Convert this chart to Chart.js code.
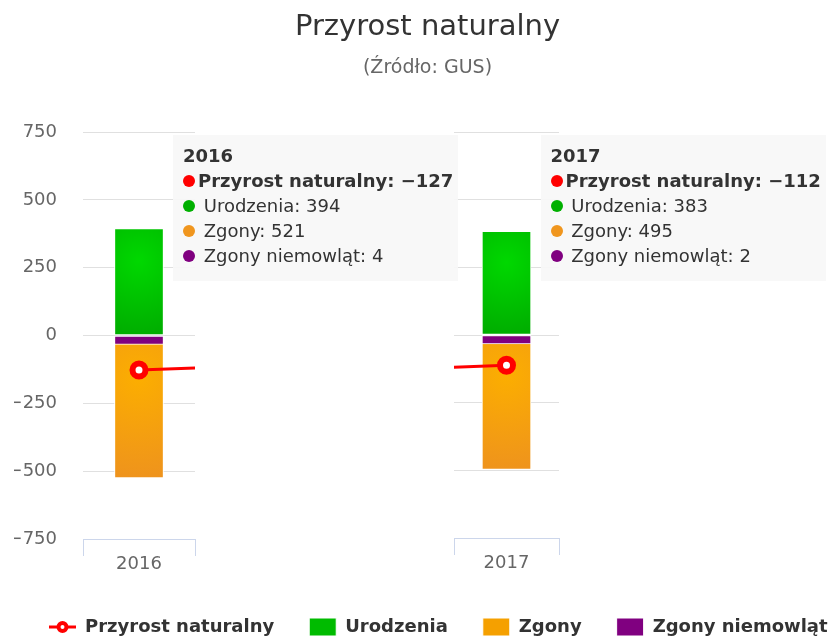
<!DOCTYPE html>
<html lang="pl">
<head>
<meta charset="utf-8">
<title>Przyrost naturalny</title>
<script src="https://cdn.jsdelivr.net/npm/chart.js@4/dist/chart.umd.min.js"></script>
<style>
  html, body { margin: 0; padding: 0; background: #fff; }
  #wrap { position: relative; width: 829px; height: 639px; overflow: hidden; }
  #wrap canvas { position: absolute; left: 0; top: 0; }
  #chartB { pointer-events: none; }
  .tip {
    position: absolute; z-index: 5; width: 285px; box-sizing: border-box;
    padding: 8px 10px 13px 10px; background: rgba(247, 247, 247, 0.92);
    font: 18px "DejaVu Sans", Verdana, sans-serif; color: #333;
    line-height: 25px; white-space: nowrap; overflow: hidden;
  }
  .tip .tt { font-weight: bold; }
  .tip .b { font-weight: bold; }
  .tip .dot {
    display: inline-block; width: 12px; height: 12px; border-radius: 50%;
    vertical-align: middle; margin-right: 3px; position: relative; top: -1px;
  }
</style>
</head>
<body>
<div id="wrap">
  <canvas id="chartA" width="829" height="639"></canvas>
  <canvas id="chartB" width="829" height="639"></canvas>
</div>
<script>
// Przyrost naturalny (GUS) - two year panels, shared tooltip for each
const years = ['2016', '2017'];
const seriesNames = ['Przyrost naturalny', 'Urodzenia', 'Zgony', 'Zgony niemowląt'];
const przyrost = [-127, -112];
const urodzenia = [394, 383];
const zgony = [521, 495];
const zgonyNiemowlat = [4, 2];
const yTicks = [750, 500, 250, 0, -250, -500, -750];
const yTickLabels = ['750', '500', '250', '0', '−250', '−500', '−750'];

const dotColors = ['#ff0000', '#00b000', '#f0961e', '#800080'];
const legendColors = ['#ff0000', '#00bb00', '#f5a000', '#800080'];

Chart.defaults.font.family = '"DejaVu Sans", Verdana, sans-serif';
Chart.defaults.animation = false;

function fmt(v) {
    return v < 0 ? '−' + Math.abs(v) : String(v);
}

// radial fill like the original columns (brighter near the top middle)
function radial(light, dark) {
    return function(c) {
        if (c.type !== 'data' || c.raw == null) return dark;
        const chart = c.chart;
        const xs = chart.scales.x, ys = chart.scales.y;
        if (!xs || !ys || !chart.chartArea) return dark;
        const cx = xs.getPixelForValue(c.dataIndex);
        const top = ys.getPixelForValue(Math.max(c.raw, 0));
        const bottom = ys.getPixelForValue(Math.min(c.raw, 0));
        const h = Math.max(bottom - top, 20);
        const cy = top + h * 0.3;
        const g = chart.ctx.createRadialGradient(cx, cy, 0, cx, cy, Math.max(h, 49) * 0.85);
        g.addColorStop(0, light);
        g.addColorStop(1, dark);
        return g;
    };
}

function makeDatasets() {
    const bar = {
        type: 'bar', borderColor: '#ffffff', borderWidth: 1, borderSkipped: false,
        barThickness: 49, clip: 0
    };
    return [
        {
            type: 'line', label: seriesNames[0], data: przyrost, order: 0, clip: 0,
            borderColor: '#ff0000', borderWidth: 3, tension: 0,
            pointRadius: 6.5, pointBorderWidth: 6, pointBackgroundColor: '#ffffff',
            pointBorderColor: '#ff0000'
        },
        Object.assign({}, bar, {
            label: seriesNames[1], data: urodzenia, order: 1,
            backgroundColor: radial('#00d800', '#00a400')
        }),
        Object.assign({}, bar, {
            label: seriesNames[2], data: zgony.map(v => -v), order: 3,
            backgroundColor: radial('#fcae00', '#ec8e22')
        }),
        Object.assign({}, bar, {
            label: seriesNames[3], data: zgonyNiemowlat.map(v => -v), order: 2,
            backgroundColor: '#800080', minBarLength: 9
        })
    ];
}

// legend symbol for the line series: line with a ring marker
const lineSymbol = document.createElement('canvas');
lineSymbol.width = 27;
lineSymbol.height = 16;
(function() {
    const c = lineSymbol.getContext('2d');
    c.strokeStyle = '#ff0000';
    c.lineWidth = 3;
    c.beginPath(); c.moveTo(0, 8); c.lineTo(27, 8); c.stroke();
    c.lineWidth = 4;
    c.fillStyle = '#ffffff';
    c.beginPath(); c.arc(13.5, 8, 4, 0, Math.PI * 2); c.fill(); c.stroke();
})();

function drawTip(context) {
    const chart = context.chart, tooltip = context.tooltip;
    const pts = tooltip.dataPoints;
    if (!pts || !pts.length) return;
    let el = document.getElementById('tip' + chart.id);
    if (!el) {
        el = document.createElement('div');
        el.id = 'tip' + chart.id;
        el.className = 'tip';
        document.getElementById('wrap').appendChild(el);
    }
    const cx = chart.scales.x.getPixelForValue(pts[0].dataIndex);
    el.style.left = (cx + 34) + 'px';
    el.style.top = (chart.chartArea.top + 3) + 'px';
    let html = '<div class="tt">' + tooltip.title[0] + '</div>';
    pts.forEach(p => {
        const i = p.datasetIndex;
        const val = p.dataset.type === 'line' ? fmt(p.raw) : fmt(Math.abs(p.raw));
        const dot = '<span class="dot" style="background:' + dotColors[i] + '"></span>';
        if (i === 0) {
            html += '<div class="b">' + dot + p.dataset.label + ': ' + val + '</div>';
        } else {
            html += '<div>' + dot + ' ' + p.dataset.label + ': ' + val + '</div>';
        }
    });
    el.innerHTML = html;
}

function showTip(chart, index) {
    chart.tooltip.setActiveElements(
        chart.data.datasets.map((d, i) => ({ datasetIndex: i, index: index })),
        { x: chart.scales.x.getPixelForValue(index), y: chart.chartArea.top }
    );
}

function spacer(width) {
    return {
        type: 'linear', position: 'right', display: true,
        grid: { display: false }, ticks: { display: false }, border: { display: false },
        afterFit: s => { s.width = width; }
    };
}

function xScale(extra) {
    return Object.assign({
        type: 'category', labels: years, stacked: true, offset: true,
        grid: { display: true, drawOnChartArea: false, drawTicks: true, tickLength: 17, color: '#ccd6eb', offset: true },
        border: { display: true, color: '#ccd6eb', width: 1 },
        ticks: { color: '#666666', font: { size: 18 }, padding: -2, maxRotation: 0 },
        afterFit: s => { s.height = 44; }
    }, extra);
}

function yScale(showLabels, width) {
    return {
        position: 'left', min: -750, max: 750, stacked: true,
        grid: { color: '#e0e0e0', drawTicks: false },
        border: { display: false },
        ticks: {
            display: showLabels, stepSize: 250, color: '#666666', font: { size: 18 }, padding: 26,
            callback: v => yTickLabels[yTicks.indexOf(v)]
        },
        afterFit: s => { s.width = width; }
    };
}

const tooltipOpts = { enabled: false, mode: 'index', intersect: false, external: drawTip };

// left panel: 2016, y axis and the legend
const chartA = new Chart(document.getElementById('chartA'), {
    type: 'bar',
    data: { labels: years, datasets: makeDatasets() },
    options: {
        responsive: false,
        animation: false,
        events: [],
        layout: { padding: { left: 14, right: -50, top: 132, bottom: -7 } },
        scales: {
            x: xScale({ max: years[0] }),
            y: yScale(true, 69),
            yR: spacer(684)
        },
        plugins: {
            title: { display: false },
            legend: {
                display: true, position: 'bottom', align: 'start',
                labels: {
                    usePointStyle: true, pointStyleWidth: 27, boxHeight: 18, padding: 35,
                    color: '#333333', font: { size: 18, weight: 'bold' },
                    sort: (a, b) => a.datasetIndex - b.datasetIndex,
                    generateLabels: function(chart) {
                        const items = Chart.defaults.plugins.legend.labels.generateLabels(chart);
                        items.forEach(it => {
                            const i = it.datasetIndex;
                            it.fillStyle = legendColors[i];
                            it.strokeStyle = '#ffffff';
                            it.lineWidth = 1;
                            it.pointStyle = i === 0 ? lineSymbol : 'rect';
                        });
                        return items;
                    }
                }
            },
            tooltip: tooltipOpts
        }
    }
});

// right panel: 2017, carries the title
const chartB = new Chart(document.getElementById('chartB'), {
    type: 'bar',
    data: { labels: years, datasets: makeDatasets() },
    options: {
        responsive: false,
        animation: false,
        events: [],
        layout: { padding: { left: 26, right: 0, top: 0, bottom: 57 } },
        scales: {
            x: xScale({ min: years[1] }),
            y: yScale(false, 428),
            yR: spacer(270)
        },
        plugins: {
            title: {
                display: true, text: 'Przyrost naturalny', color: '#333333',
                font: { size: 29, weight: 'normal' }, padding: { top: 10, bottom: 0 }
            },
            subtitle: {
                display: true, text: '(Źródło: GUS)', color: '#666666',
                font: { size: 19, weight: 'normal' }, padding: { top: 12, bottom: 52.4 }
            },
            legend: { display: false },
            tooltip: tooltipOpts
        }
    }
});

showTip(chartA, 0);
showTip(chartB, 1);
</script>
</body>
</html>
